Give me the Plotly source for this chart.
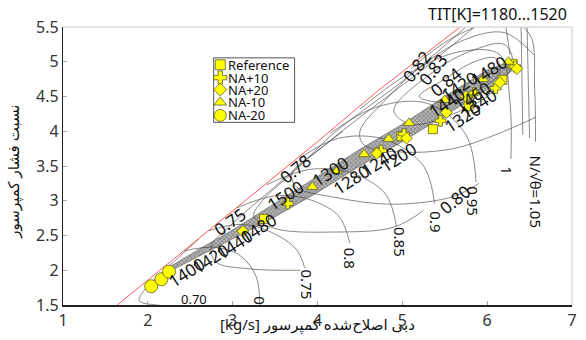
import plotly.graph_objects as go

# ---------------- data ----------------
x_ticks = [1, 2, 3, 4, 5, 6, 7]
y_ticks = [1.5, 2, 2.5, 3, 3.5, 4, 4.5, 5, 5.5]

surge_x = [1.64, 3.0, 4.0, 4.7, 5.68]
surge_y = [1.5, 2.85, 3.85, 4.57, 5.5]

# speed lines N/sqrt(theta)
speed_vals = ["0", "0.75", "0.8", "0.85", "0.9", "0.95", "1", "N/√θ=1.05"]
speed_lines = [
    ([2.43, 2.8, 3.1, 3.28, 3.32], [2.28, 2.33, 2.2, 1.9, 1.45]),
    ([2.72, 3.1, 3.45, 3.75, 3.85], [2.57, 2.66, 2.55, 2.3, 2.03]),
    ([3.05, 3.5, 3.9, 4.25, 4.38], [2.9, 3.07, 3.02, 2.78, 2.39]),
    ([3.4, 3.9, 4.4, 4.8, 4.93], [3.23, 3.45, 3.4, 3.1, 2.63]),
    ([3.8, 4.25, 4.8, 5.25, 5.38], [3.62, 3.9, 3.88, 3.5, 2.96]),
    ([4.15, 4.7, 5.3, 5.75, 5.87], [3.97, 4.35, 4.4, 3.95, 3.27]),
    ([4.5, 5.1, 5.7, 6.15, 6.27, 6.28], [4.32, 4.85, 5.15, 5.1, 4.4, 3.6]),
    ([5.1, 5.6, 6.2, 6.5, 6.56, 6.57], [4.9, 5.35, 5.6, 5.4, 4.6, 3.85]),
]
speed_lab_x = [3.33, 3.88, 4.38, 4.97, 5.40, 5.84, 6.24, 6.57]
speed_lab_y = [1.56, 1.79, 2.17, 2.41, 2.70, 3.00, 3.43, 3.14]

# efficiency contours
eff_vals = ["0.70", "0.75", "0.78", "0.80", "0.82", "0.83", "0.84"]
eff_lines = [
    ([2.6, 2.2, 1.95, 1.9, 2.1, 2.6], [2.45, 2.0, 1.7, 1.56, 1.5, 1.48]),
    ([4.3, 3.9, 3.4, 2.97, 2.75, 2.8, 3.2, 3.8], [4.0, 3.62, 3.1, 2.64, 2.35, 2.12, 2.02, 2.0]),
    ([5.75, 5.0, 4.2, 3.74, 3.35, 3.25, 3.5, 4.2, 4.9, 5.25], [5.5, 4.72, 3.98, 3.44, 3.0, 2.78, 2.6, 2.55, 2.62, 2.86]),
    ([5.85, 5.2, 4.5, 4.0, 3.7, 3.75, 4.2, 4.9, 5.6, 5.9], [5.5, 4.85, 4.2, 3.72, 3.4, 3.2, 3.05, 2.95, 3.06, 3.25]),
    ([6.55, 6.2, 5.7, 5.17, 4.8, 4.5, 4.55, 5.0, 5.6, 6.1, 6.57], [5.1, 5.42, 5.3, 4.88, 4.45, 4.0, 3.8, 3.7, 3.75, 3.95, 4.2]),
    ([4.9, 5.36, 5.8, 6.2, 6.3, 6.1, 5.6, 5.1, 4.9], [4.3, 4.85, 5.15, 5.25, 5.0, 4.6, 4.25, 4.1, 4.3]),
    ([5.2, 5.5, 5.85, 6.1, 6.15, 5.9, 5.5, 5.2], [4.5, 4.75, 5.0, 5.05, 4.85, 4.6, 4.42, 4.5]),
]
eff_lab_x = [2.55, 2.97, 3.74, 5.62, 5.17, 5.36, 5.52]
eff_lab_y = [1.58, 2.70, 3.47, 3.02, 4.93, 4.89, 4.71]
eff_lab_ang = [0, -35, -40, -40, -52, -52, -40]

# TIT leader lines
tit_lines = [
    ([6.22, 6.27], [5.5, 5.1]),
    ([6.40, 6.42], [5.5, 3.95]),
    ([6.47, 6.50], [5.5, 3.9]),
]

# operating band (TIT = 1180 ... 1520)
band_x = [2.22, 2.6, 3.0, 3.5, 4.0, 4.5, 5.0, 5.5, 6.0, 6.3]
band_lo = [1.96, 2.2, 2.45, 2.77, 3.12, 3.5, 3.85, 4.22, 4.6, 4.88]
band_hi = [2.02, 2.3, 2.58, 2.97, 3.35, 3.74, 4.1, 4.5, 4.88, 5.02]

tit_labels = ["1400", "1420", "1440", "1480", "1500",
              "1300", "1280", "1240", "1200",
              "1440", "1420", "1480", "1460", "1320", "1340"]
tit_lab_x = [2.45, 2.74, 3.02, 3.30, 3.62,
             4.15, 4.40, 4.73, 4.95,
             5.52, 5.67, 6.02, 5.83, 5.71, 5.90]
tit_lab_y = [1.97, 2.17, 2.37, 2.60, 3.07,
             3.42, 3.30, 3.56, 3.62,
             4.42, 4.64, 4.88, 4.50, 4.20, 4.40]

# measured points
series = ["Reference", "NA+10", "NA+20", "NA-10", "NA-20"]
symbols = ["square", "cross", "diamond", "triangle-up", "circle"]
ref_x = [3.37, 4.72, 4.99, 5.36, 5.78, 6.18, 6.30]
ref_y = [2.74, 3.70, 3.93, 4.03, 4.36, 4.74, 4.97]
p10_x = [3.65, 4.75, 5.02, 5.45, 5.85, 6.10, 6.33]
p10_y = [2.96, 3.72, 3.96, 4.15, 4.55, 4.62, 4.93]
p20_x = [3.12, 4.70, 5.05, 5.52, 5.75, 6.15, 6.35]
p20_y = [2.56, 3.68, 3.90, 4.27, 4.50, 4.70, 4.90]
m10_x = [3.94, 4.23, 4.55, 4.84, 5.08, 5.50, 5.95, 6.25]
m10_y = [3.20, 3.43, 3.67, 3.89, 4.12, 4.45, 4.75, 5.00]
m20_x = [2.04, 2.16, 2.25]
m20_y = [1.77, 1.87, 1.98]

# ---------------- figure ----------------
fig = go.Figure()
LINE = "#3a3a3a"

# band
fig.add_trace(go.Scatter(
    x=band_x + band_x[::-1], y=band_lo + band_hi[::-1],
    mode="lines", fill="toself", fillcolor="#a8a8a8",
    fillpattern=dict(shape="x", fgcolor="#3c3c3c", bgcolor="#b4b4b4", size=3, solidity=0.4),
    line=dict(color="#555555", width=0.6), hoverinfo="skip", showlegend=False))

for xs, ys in eff_lines:
    fig.add_trace(go.Scatter(x=xs, y=ys, mode="lines", line=dict(color=LINE, width=0.6, shape="spline"),
                             hoverinfo="skip", showlegend=False))
for xs, ys in speed_lines:
    fig.add_trace(go.Scatter(x=xs, y=ys, mode="lines", line=dict(color=LINE, width=0.6, shape="spline"),
                             hoverinfo="skip", showlegend=False))
for xs, ys in tit_lines:
    fig.add_trace(go.Scatter(x=xs, y=ys, mode="lines", line=dict(color=LINE, width=0.6),
                             hoverinfo="skip", showlegend=False))

fig.add_trace(go.Scatter(x=surge_x, y=surge_y, mode="lines", line=dict(color="#ff3030", width=0.8),
                         hoverinfo="skip", showlegend=False))

YEL = "#ffff00"
MLINE = dict(color="#5e5e30", width=0.8)
data_xy = [(ref_x, ref_y), (p10_x, p10_y), (p20_x, p20_y), (m10_x, m10_y), (m20_x, m20_y)]
sizes = [9, 9, 9, 10, 13]
for (xs, ys), nm, sym, sz in zip(data_xy, series, symbols, sizes):
    fig.add_trace(go.Scatter(x=xs, y=ys, mode="markers", name=nm,
                             marker=dict(symbol=sym, size=sz, color=YEL, line=MLINE),
                             showlegend=False))

# manual legend (key symbols on an overlay axis in [0,1])
leg_x = 0.309
leg_y = [0.864, 0.818, 0.775, 0.729, 0.682]
leg_sizes = [10, 11, 10, 11, 12]
for nm, sym, yy, sz in zip(series, symbols, leg_y, leg_sizes):
    fig.add_trace(go.Scatter(x=[leg_x], y=[yy], mode="markers", xaxis="x2", yaxis="y2",
                             marker=dict(symbol=sym, size=sz, color=YEL, line=MLINE),
                             hoverinfo="skip", showlegend=False))

ann = []
FONT = "Noto Sans, Open Sans, DejaVu Sans, sans-serif"
for nm, yy in zip(series, leg_y):
    ann.append(dict(x=0.322, y=yy, xref="paper", yref="paper", text=nm, showarrow=False,
                    xanchor="left", yanchor="middle", height=12, borderpad=0,
                    font=dict(size=13, color="#111", family=FONT)))

for t, x, y in zip(speed_vals, speed_lab_x, speed_lab_y):
    ann.append(dict(x=x, y=y, text=t, showarrow=False, textangle=90,
                    font=dict(size=15, color="#111", family=FONT)))
for t, x, y, a in zip(eff_vals, eff_lab_x, eff_lab_y, eff_lab_ang):
    ann.append(dict(x=x, y=y, text=t, showarrow=False, textangle=a,
                    font=dict(size=17 if t != "0.70" else 13, color="#111", family=FONT)))
for t, x, y in zip(tit_labels, tit_lab_x, tit_lab_y):
    ann.append(dict(x=x, y=y, text=t, showarrow=False, textangle=-33,
                    font=dict(size=17, color="#111", family=FONT)))

ann.append(dict(x=0.994, y=1.0, xref="paper", yref="paper", text="TIT[K]=1180...1520", showarrow=False,
                xanchor="right", yanchor="bottom", font=dict(size=16, color="#111", family=FONT)))
ann.append(dict(x=0.5, y=-0.07, xref="paper", yref="paper", text="[kg/s] دبی اصلاح‌شده کمپرسور",
                showarrow=False, xanchor="center", yanchor="middle", font=dict(size=15, color="#111", family=FONT)))
ann.append(dict(x=-0.098, y=0.48, xref="paper", yref="paper", text="نسبت فشار کمپرسور",
                showarrow=False, textangle=-90, xanchor="center", yanchor="middle",
                font=dict(size=15, color="#111", family=FONT)))

shapes = [
    dict(type="line", xref="paper", yref="paper", x0=0, x1=1, y0=1, y1=1, line=dict(color="#dddddd", width=1.5)),
    dict(type="line", xref="paper", yref="paper", x0=1, x1=1, y0=0, y1=1, line=dict(color="#dddddd", width=1.5)),
    dict(type="rect", xref="paper", yref="paper", x0=0.296, x1=0.455, y0=0.657, y1=0.889,
         line=dict(color="#555555", width=1), fillcolor="white", layer="below"),
]

fig.update_layout(
    width=586, height=340, margin=dict(l=63, r=9, t=27, b=33),
    paper_bgcolor="white", plot_bgcolor="white",
    showlegend=False, annotations=ann, shapes=shapes,
    font=dict(family=FONT, color="#333"),
    xaxis=dict(range=[1, 7], tickvals=x_ticks, showgrid=False, zeroline=False,
               showline=True, linecolor="#222", linewidth=1.5, ticks="inside", ticklen=4,
               tickcolor="#aaaaaa", tickfont=dict(size=16, color="#333")),
    yaxis=dict(range=[1.5, 5.5], tickvals=y_ticks, ticktext=[str(v) for v in y_ticks],
               showgrid=False, zeroline=False,
               showline=True, linecolor="#222", linewidth=1.2, ticks="inside", ticklen=4,
               tickcolor="#aaaaaa", tickfont=dict(size=16, color="#333")),
    xaxis2=dict(range=[0, 1], overlaying="x", visible=False, anchor="y2"),
    yaxis2=dict(range=[0, 1], overlaying="y", visible=False, anchor="x2"),
)

fig.write_html("out.html")
